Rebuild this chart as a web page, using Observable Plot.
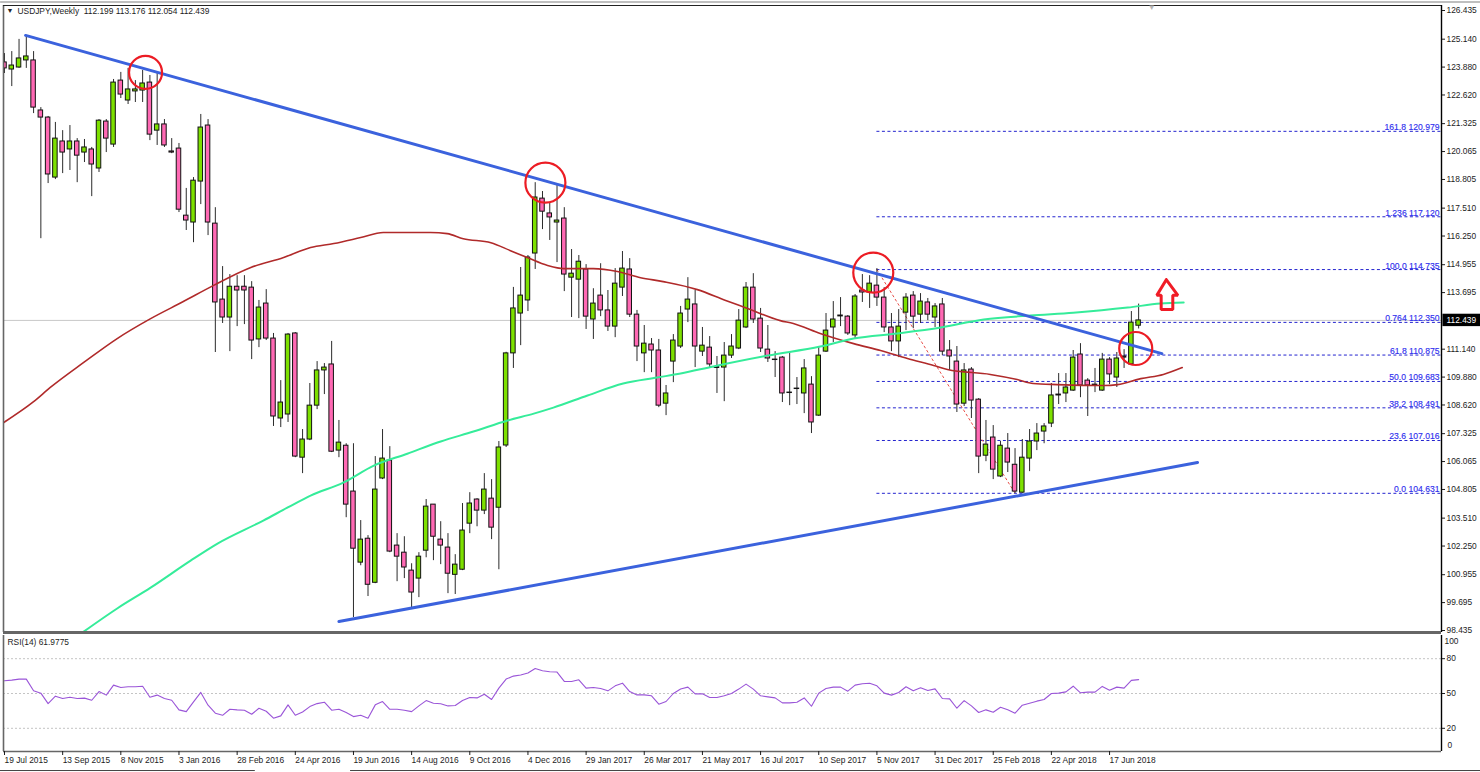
<!DOCTYPE html>
<html>
<head>
<meta charset="utf-8">
<script src="https://cdn.jsdelivr.net/npm/d3@7"></script>
<script src="https://cdn.jsdelivr.net/npm/@observablehq/plot@0.6"></script>
<style>
html,body{margin:0;padding:0;background:#fff;}
svg{display:block;}
</style>
</head>
<body>
<div id="c"></div>
<script>
const dateLabels = ["19 Jul 2015","13 Sep 2015","8 Nov 2015","3 Jan 2016","28 Feb 2016","24 Apr 2016","19 Jun 2016","14 Aug 2016","9 Oct 2016","4 Dec 2016","29 Jan 2017","26 Mar 2017","21 May 2017","16 Jul 2017","10 Sep 2017","5 Nov 2017","31 Dec 2017","25 Feb 2018","22 Apr 2018","17 Jun 2018"];
const priceTicks = [126.435,125.140,123.880,122.620,121.325,120.065,118.805,117.510,116.250,114.955,113.695,111.140,109.880,108.620,107.325,106.065,104.805,103.510,102.250,100.955,99.695,98.435];
const rsiTicks = [80,50,20];

const opens = [124.09,123.77,123.86,124.18,124.18,121.92,121.60,118.89,120.52,120.16,
120.52,120.02,120.16,119.30,121.42,120.38,123.27,122.37,122.78,122.82,
123.18,121.01,121.29,120.07,120.20,117.17,116.86,118.71,121.24,116.81,
113.38,112.57,113.96,113.96,113.92,111.58,113.20,111.62,108.01,108.19,
111.85,106.24,107.06,108.59,110.18,110.45,106.56,106.78,104.71,101.50,
102.58,100.59,105.30,106.11,102.27,101.95,101.14,100.78,102.04,104.12,
102.54,102.18,100.95,101.18,103.26,104.35,103.85,104.39,103.98,106.79,
110.95,112.75,113.34,115.46,117.94,117.27,116.86,117.04,114.37,114.28,
114.74,112.48,113.56,112.89,112.16,113.92,114.74,112.70,110.95,111.35,
111.08,108.68,110.58,111.26,112.93,113.16,111.03,111.21,110.33,110.31,
110.85,111.17,112.12,113.92,112.52,111.12,110.67,110.76,109.18,109.36,
109.14,109.54,108.14,111.03,112.12,112.66,112.61,111.76,113.79,113.70,
114.01,113.47,112.12,111.49,112.79,113.56,112.70,113.25,112.57,113.16,
111.08,110.58,108.68,110.22,108.86,106.33,107.15,105.39,106.65,105.92,
104.66,106.20,106.97,107.42,107.78,109.09,109.14,109.27,110.90,109.72,
109.54,109.27,110.67,109.86,110.81,110.45,112.199];

const closes = [123.82,123.95,124.27,124.36,122.05,121.60,119.03,120.65,120.02,120.52,
119.88,120.25,119.48,121.46,120.65,123.18,122.64,122.87,122.87,123.14,
120.83,121.29,120.34,120.02,117.44,116.95,118.75,121.15,116.86,113.25,
112.57,113.96,113.79,113.79,111.53,113.02,111.62,108.10,108.73,111.80,
106.29,107.06,108.59,110.18,110.31,106.51,106.92,104.12,102.13,102.54,
100.50,104.80,106.20,102.00,101.77,101.28,100.15,101.77,104.03,102.67,
102.27,101.00,101.41,102.95,104.17,103.85,104.80,103.08,106.70,110.95,
112.98,113.56,115.28,117.99,117.35,117.09,116.95,114.51,114.55,115.09,
112.61,113.20,112.89,112.16,114.10,114.78,112.70,111.26,111.39,111.08,
108.59,109.14,111.53,112.75,113.38,111.26,111.30,110.45,110.29,110.85,
111.26,112.43,113.92,112.48,111.17,110.72,110.65,109.14,109.16,109.34,
110.27,107.83,110.85,111.98,112.48,112.62,111.85,113.52,113.70,114.10,
113.47,112.12,111.49,112.16,113.47,112.61,113.29,112.70,113.07,111.03,
110.81,108.64,110.18,108.82,106.29,106.83,105.70,106.78,106.02,104.71,
106.24,106.97,107.33,107.65,109.05,109.05,109.41,110.76,109.50,109.50,
109.50,110.67,110.00,110.72,110.76,112.34,112.439];

const highs = [124.49,124.58,125.13,125.31,124.58,122.05,121.65,121.38,121.01,121.24,
120.65,120.61,120.25,121.51,121.51,123.32,123.64,123.82,123.27,123.73,
123.50,123.64,121.51,120.65,120.43,118.40,118.89,121.74,121.51,117.53,
114.87,114.51,114.46,114.46,114.19,113.34,113.83,111.85,109.72,111.85,
111.89,107.51,109.59,110.58,110.49,111.49,107.92,106.87,106.87,103.40,
102.72,106.29,107.51,106.74,102.81,102.67,101.45,101.95,104.35,104.12,
103.35,102.81,101.86,104.17,104.66,104.39,105.52,105.25,106.97,111.00,
113.93,114.83,115.37,118.66,118.26,117.76,118.53,117.53,115.64,115.37,
114.96,113.87,115.00,113.79,114.78,115.55,115.23,112.89,112.21,111.62,
111.58,109.50,111.80,113.07,114.37,113.79,112.12,111.71,110.81,111.44,
111.80,112.93,114.15,114.55,112.98,112.21,111.03,110.81,110.99,109.86,
110.67,109.90,111.26,112.75,113.29,113.47,112.66,113.61,114.51,114.46,
114.78,113.92,112.75,112.93,113.65,113.74,113.65,113.43,113.20,113.43,
111.53,111.26,110.49,110.31,108.91,107.92,107.69,106.97,107.33,106.65,
107.06,107.51,107.78,107.78,109.59,110.04,110.04,111.08,111.39,109.81,
110.27,110.95,110.76,110.99,111.12,112.84,113.176];

const lows = [123.59,123.00,123.82,123.82,121.78,116.13,118.62,118.80,119.07,119.21,
118.66,119.57,118.03,119.12,120.02,120.25,122.46,122.19,122.28,122.28,
120.56,120.34,120.25,119.97,117.31,116.50,115.95,117.67,116.27,110.99,
112.30,111.03,112.16,112.25,110.67,111.21,111.53,107.65,107.60,107.83,
106.24,105.52,107.01,108.41,109.09,106.47,106.24,103.53,99.02,101.36,
99.97,100.55,105.25,101.95,100.64,100.78,99.47,99.92,101.72,101.59,
101.41,100.10,100.06,101.14,102.81,103.12,103.67,102.54,101.18,106.70,
110.27,111.30,112.84,114.74,116.54,116.05,115.05,113.74,112.57,112.52,
112.03,111.58,112.61,111.94,111.66,113.52,112.57,110.58,110.08,110.08,
108.50,108.14,109.63,111.17,112.34,110.31,110.81,110.31,109.14,108.77,
110.72,111.12,112.07,112.30,110.99,110.54,109.86,108.73,108.59,108.64,
108.23,107.33,108.10,110.99,111.44,112.16,111.76,111.58,113.25,112.98,
113.07,111.89,111.03,110.76,111.98,112.07,112.30,112.43,112.12,110.85,
110.18,108.28,108.55,108.01,105.52,106.06,105.25,105.34,105.57,104.62,
104.63,105.61,106.56,106.87,107.60,108.64,108.73,109.23,108.95,108.10,
109.18,109.23,109.54,109.41,110.27,110.40,112.054];

const rsiValues = [61.0,61.5,62.4,62.4,52.3,50.3,41.3,47.7,45.7,46.8,45.7,46.0,44.2,51.7,48.6,57.2,55.2,55.8,55.8,56.3,
46.8,48.6,45.7,44.2,35.9,34.4,42.8,50.9,39.9,33.0,31.2,36.4,35.9,35.6,32.1,37.3,34.7,28.7,30.7,40.2,
31.2,34.1,38.7,41.3,42.5,35.6,36.4,33.6,30.1,31.2,28.7,40.2,43.1,36.4,36.4,35.6,34.4,39.3,43.9,41.6,
41.1,39.3,39.6,43.9,46.5,46.2,49.4,44.8,54.6,62.4,65.0,65.9,67.6,71.6,69.6,68.8,68.5,60.4,60.4,61.8,
54.6,55.2,54.3,52.3,56.6,58.9,51.7,48.8,48.8,48.0,40.8,43.1,50.0,53.8,55.5,49.7,49.7,46.5,46.5,48.0,
50.0,53.8,58.1,53.8,48.0,47.1,46.2,41.9,41.9,42.5,46.2,39.0,50.3,54.3,55.5,55.5,52.0,57.2,58.4,58.9,
56.6,50.3,48.6,50.9,55.8,52.3,54.9,52.6,54.0,45.7,45.4,37.3,43.9,39.3,33.6,35.9,33.8,38.2,35.9,33.0,
39.9,41.6,43.4,44.8,50.0,50.3,51.4,56.3,50.6,51.2,51.2,56.1,52.9,55.5,54.6,61.3,61.98];

const maRedBars = [-0.1,4.0,6.3,10.9,15.5,20.1,24.6,28.7,33.8,38.4,42.1,45.3,49.0,52.1,54.9,58.6,60.9,63.1,66.9,69.6,71.9,74.7,76.9,81.0,84.3,87.5,90.6,95.3,99.2,102.2,106.7,108.5,112.2,116.8,120.5,124.2,127.8,129.7,135.6,139.3,141.5,144.8,151.2,153.1,156.3,159.4,162.0];
const maRedValues = [107.83,108.77,109.41,110.54,111.62,112.52,113.29,114.01,114.82,115.28,115.73,115.91,116.18,116.41,116.41,116.41,116.36,116.13,115.95,115.59,115.28,114.92,114.78,114.78,114.65,114.37,114.19,113.83,113.34,112.98,112.43,112.30,111.85,111.39,111.08,110.72,110.40,110.22,110.00,109.77,109.59,109.54,109.50,109.54,109.81,110.00,110.31];

const maGreenBars = [10.7,15.5,20.1,25.6,29.3,35.6,38.9,42.1,46.6,50.8,55.4,60.0,64.5,69.2,72.8,75.5,80.2,85.1,89.8,93.0,97.5,105.0,112.2,116.8,122.8,128.8,134.7,141.1,147.0,154.5,159.0,162.2];
const maGreenValues = [98.34,99.43,100.37,101.59,102.36,103.40,103.98,104.53,105.11,105.88,106.42,106.97,107.42,107.92,108.23,108.50,109.05,109.59,109.86,110.04,110.36,110.85,111.26,111.62,111.85,112.12,112.48,112.66,112.79,113.02,113.20,113.25];

const trendBars = [[2.9,159.2],[46.0,164.1]];
const trendValues = [[125.31,110.94],[98.84,106.02]];

const fibNames = ["161.8","1.236","100.0","0.764","61.8","50.0","38.2","23.6","0.0"];
const fibValues = [120.979,117.120,114.735,112.350,110.875,109.683,108.491,107.016,104.631];
const fibStartBar = 120;
const fibEndBar = 139;

const lastPrice = 112.439;
const circleLargeBars = [74.4,119.5], circleLargeValues = [118.66,114.60];
const circleSmallBars = [19.4,155.6], circleSmallValues = [123.64,111.17];
const arrowBars = [159.8,161.4,160.7,160.7,159.1,159.1,158.5,159.8];
const arrowValues = [114.28,113.57,113.57,112.93,112.93,113.57,113.57,114.28];

const bars = opens.map((o,i)=>({i,o,c:closes[i],h:highs[i],l:lows[i]}));
const xDomain = [-0.1376,197.66];
const xRightEdge = 203.6;
const priceDomain = [98.345,126.661];
const FONT = "'Liberation Sans',Arial,sans-serif";
const INK = "#1c1c1c";
const pts = (xs,ys)=>xs.map((x,k)=>({x,y:ys[k]}));

const main = Plot.plot({
  width:1480,height:634,marginLeft:3,marginRight:39,marginTop:5,marginBottom:2,
  style:{fontFamily:FONT,fontSize:"8.4px",background:"#fff",color:INK,overflow:"visible"},
  x:{domain:xDomain,axis:null},
  y:{domain:priceDomain,axis:null},
  marks:[
    Plot.ruleY([lastPrice],{x1:xDomain[0],x2:xDomain[1],stroke:"#c9c9c9",strokeWidth:1}),
    ...fibValues.map(v=>Plot.ruleY([v],{x1:fibStartBar,x2:xDomain[1],stroke:"#2424cf",strokeWidth:1,strokeDasharray:"3,2.5"})),
    Plot.line(pts([fibStartBar,fibEndBar],[fibValues[2],fibValues[8]]),{x:"x",y:"y",stroke:"#e8504a",strokeWidth:1,strokeDasharray:"2,3"}),
    Plot.ruleX(bars,{x:"i",y1:"l",y2:"h",stroke:"#2b2b2b",strokeWidth:1,clip:true}),
    Plot.rect(bars,{x1:d=>d.i-0.31,x2:d=>d.i+0.31,y1:"o",y2:"c",fill:d=>d.c>=d.o?"#7de000":"#ff69b4",stroke:"#111",strokeWidth:1,clip:true}),
    Plot.line(pts(maRedBars,maRedValues),{x:"x",y:"y",stroke:"#b02a2a",strokeWidth:1.6,curve:"monotone-x",clip:true}),
    Plot.line(pts(maGreenBars,maGreenValues),{x:"x",y:"y",stroke:"#35ec9a",strokeWidth:2,curve:"monotone-x",clip:true}),
    ...trendBars.map((b,k)=>Plot.line(pts(b,trendValues[k]),{x:"x",y:"y",stroke:"#3b62dd",strokeWidth:3})),
    Plot.dot(pts(circleLargeBars,circleLargeValues),{x:"x",y:"y",r:20,stroke:"#ec1c24",strokeWidth:2.2,fill:"none"}),
    Plot.dot(pts(circleSmallBars,circleSmallValues),{x:"x",y:"y",r:16.5,stroke:"#ec1c24",strokeWidth:2.2,fill:"none"}),
    Plot.line(pts(arrowBars,arrowValues),{x:"x",y:"y",stroke:"#f01c26",strokeWidth:3,strokeLinejoin:"miter"}),
    Plot.text(fibValues,{x:xDomain[1],y:d=>d,text:(d,k)=>`${fibNames[k]} ${d.toFixed(3)}`,textAnchor:"end",lineAnchor:"bottom",dx:-2,dy:-1,fill:"#3030ee",stroke:"#3030ee",strokeWidth:0.15,fontSize:8.6}),
    Plot.ruleX([xDomain[1]],{stroke:"#000",strokeWidth:1.4}),
    Plot.ruleX([xDomain[0]],{stroke:"#666",strokeWidth:1.6}),
    Plot.ruleY([priceDomain[1]],{x1:xDomain[0],x2:xDomain[1],stroke:"#222",strokeWidth:1}),
    Plot.ruleY([126.82],{x1:xDomain[0]-0.4,x2:xRightEdge,stroke:"#aaa",strokeWidth:1.5}),
    Plot.ruleY([priceDomain[0]],{x1:xDomain[0],x2:xDomain[1],stroke:"#666",strokeWidth:3}),
    Plot.axisY(priceTicks,{anchor:"right",tickSize:3,tickPadding:2,tickFormat:d=>d.toFixed(3),label:null,fontSize:8.4}),
    Plot.rect([lastPrice],{x1:xDomain[1]+0.2,x2:xRightEdge,y1:d=>d-0.28,y2:d=>d+0.28,fill:"#000"}),
    Plot.text([lastPrice],{x:xDomain[1],y:d=>d,text:d=>d.toFixed(3),textAnchor:"start",dx:5,fill:"#fff"}),
    Plot.text(["\u25BC"],{frameAnchor:"top-left",dx:3,dy:3,fontSize:7,fill:"#222"}),
    Plot.text(["USDJPY,Weekly  112.199 113.176 112.054 112.439"],{frameAnchor:"top-left",dx:14,dy:3,fontSize:8.4,fill:INK,style:"white-space:pre"}),
    Plot.text(["\u25BC"],{x:157.8,y:priceDomain[1],dy:2,fontSize:8,fill:"#b5b5b5"})
  ]
});

const rsi = Plot.plot({
  width:1480,height:138,marginLeft:3,marginRight:39,marginTop:1,marginBottom:21,
  style:{fontFamily:FONT,fontSize:"8.4px",background:"#fff",color:INK,overflow:"visible"},
  x:{domain:xDomain,axis:null},
  y:{domain:[0,100],axis:null},
  marks:[
    Plot.ruleY(rsiTicks,{x1:xDomain[0],x2:xDomain[1],stroke:"#c4c4c4",strokeWidth:1,strokeDasharray:"2,2"}),
    Plot.line(rsiValues,{x:(d,k)=>k,y:d=>d,stroke:"#9a55d8",strokeWidth:1.1}),
    Plot.ruleX([xDomain[1]],{stroke:"#000",strokeWidth:1.4}),
    Plot.ruleX([xDomain[0]],{stroke:"#666",strokeWidth:1.6}),
    Plot.ruleY([0],{x1:xDomain[0],x2:xDomain[1],stroke:"#666",strokeWidth:1.6}),
    Plot.axisX(dateLabels.map((_,k)=>k*8),{anchor:"bottom",tickSize:4,tickPadding:2,tickFormat:d=>dateLabels[d/8],textAnchor:"start",label:null,fontSize:8.4}),
    Plot.axisY(rsiTicks,{anchor:"right",tickSize:3,tickPadding:2,label:null,fontSize:8.4}),
    Plot.text([100],{x:xDomain[1],y:d=>d,text:d=>String(d),textAnchor:"start",dx:3,dy:6}),
    Plot.text([0],{x:xDomain[1],y:d=>d,text:d=>String(d),textAnchor:"start",dx:6,dy:-6}),
    Plot.text(["RSI(14) 61.9775"],{frameAnchor:"top-left",dx:4,dy:4,fontSize:8.4,fill:INK}),
    Plot.ruleY([-16.4],{x1:xDomain[0]-1,x2:34.5,stroke:"#444",strokeWidth:1}),
    Plot.ruleY([-16.4],{x1:47.6,x2:xRightEdge,stroke:"#444",strokeWidth:1})
  ]
});
document.getElementById("c").append(main,rsi);
</script>
</body>
</html>
